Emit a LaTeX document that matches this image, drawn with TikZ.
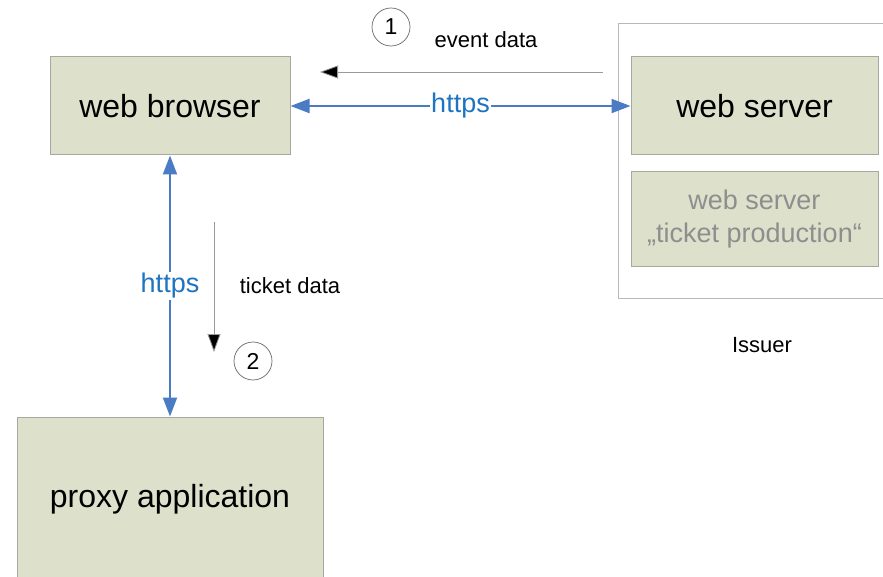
\documentclass[tikz,border=0pt]{standalone}
\usepackage{fontspec}
\setmainfont{Liberation Sans}
\usetikzlibrary{arrows.meta}
\definecolor{boxfill}{HTML}{DDE1CB}
\definecolor{boxline}{HTML}{A8A8A0}
\definecolor{linkblue}{HTML}{4A7CC4}
\definecolor{textblue}{HTML}{1F74C0}
\definecolor{dimtext}{HTML}{8E8E8E}
\definecolor{frameline}{HTML}{B8B8B8}
\tikzset{
  x=1pt, y=-1pt,
  box/.style={draw=boxline, line width=1pt, fill=boxfill, inner sep=0pt, align=center},
  bigtext/.style={font=\fontsize{32}{36}\selectfont},
  midtext/.style={font=\fontsize{27}{33}\selectfont},
  smalltext/.style={font=\fontsize{22}{26}\selectfont},
  link/.style={draw=linkblue, line width=2pt, {Triangle[length=19pt,width=14pt]}-{Triangle[length=19pt,width=14pt]}},
  linklabel/.style={fill=white, text=textblue, inner sep=1pt, font=\fontsize{27}{30}\selectfont},
  flow/.style={draw=black!40, line width=0.8pt, -{Triangle[length=18pt,width=13pt,fill=black]}},
  numcircle/.style={circle, draw=black!60, line width=0.7pt, minimum size=38pt, inner sep=0pt, font=\fontsize{23}{26}\selectfont}
}
\begin{document}
\begin{tikzpicture}
\useasboundingbox (0,0) rectangle (883,577);
\clip (0,0) rectangle (883,577);
\fill[white] (0,0) rectangle (883,577);

% Issuer frame
\node[draw=frameline, line width=1pt, minimum width=290pt, minimum height=274pt, inner sep=0pt] (issuer) at (763,161) {};
\node[smalltext] (issuerlabel) at (762,345) {Issuer};

% boxes
\node[box, bigtext, minimum width=240pt, minimum height=98pt] (wb) at (170,106) {web browser};
\node[box, bigtext, minimum width=247pt, minimum height=98pt] (ws) at (754.5,106) {web server};
\node[box, midtext, text=dimtext, minimum width=247pt, minimum height=95pt] (wt) at (754.5,219.5) {web server\\„ticket production“};
\node[box, bigtext, minimum width=306pt, minimum height=164pt] (proxy) at (170,499) {proxy application};

% https connectors
\draw[link] (wb.east) -- node[linklabel] (h1) {https} (ws.west);
\draw[link] (wb.south) -- node[linklabel, pos=0.5] (h2) {https} (proxy.north);

% event data flow
\coordinate (e1) at (603,72);
\coordinate (e2) at (320,72);
\draw[flow] (e1) -- (e2);
\node[numcircle] (c1) at (391,27) {1};
\node[smalltext] (evlabel) at (486,40) {event data};

% ticket data flow
\coordinate (t1) at (214,222);
\coordinate (t2) at (214,352);
\draw[flow] (t1) -- (t2);
\node[smalltext] (tklabel) at (290,286) {ticket data};
\node[numcircle] (c2) at (253,361) {2};
\end{tikzpicture}
\end{document}
